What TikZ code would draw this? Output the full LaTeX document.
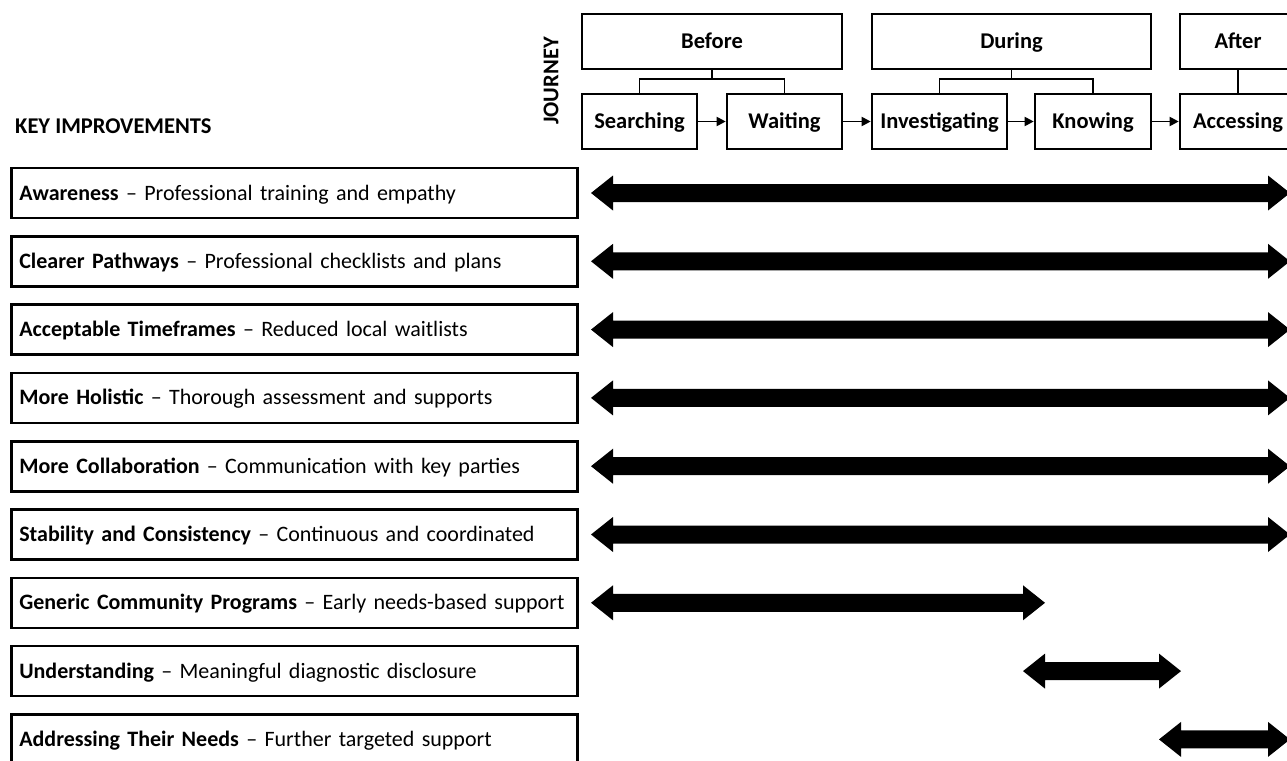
\documentclass[tikz,border=0pt]{standalone}
\usepackage{fontspec}
\setmainfont{Carlito}
\usetikzlibrary{arrows.meta}
\newcommand\dblfat[3]{%
  \fill ({#1},{#3}) -- ({#1+22},{#3-17.5}) -- ({#1+22},{#3-9}) -- ({#2-22},{#3-9}) -- ({#2-22},{#3-17.5}) -- ({#2},{#3}) -- ({#2-22},{#3+17.5}) -- ({#2-22},{#3+9}) -- ({#1+22},{#3+9}) -- ({#1+22},{#3+17.5}) -- cycle;}
\begin{document}
\begin{tikzpicture}[x=1pt,y=-1pt,
  stage/.style={draw, line width=2.6pt, minimum height=55pt, inner sep=0pt, text height=17pt, text depth=3pt, font=\fontsize{22.5}{26}\selectfont\bfseries},
  imp/.style={draw, line width=2.6pt, minimum width=566pt, minimum height=50pt, text width=550pt, inner xsep=8pt, inner ysep=0pt, text height=17pt, text depth=3pt, align=left, anchor=west, font=\fontsize{22}{26}\selectfont},
  link/.style={line width=1.8pt},
  flow/.style={line width=1.8pt, -{Triangle[length=9pt,width=9pt]}},
  head/.style={font=\fontsize{22.5}{26}\selectfont\bfseries, inner sep=0pt}
]
\useasboundingbox (0,0) rectangle (1287,760);
\fill[white] (0,0) rectangle (1287,760);

% journey stages
\node[stage, minimum width=260pt] (before) at (712,41.5) {Before};
\node[stage, minimum width=279pt] (during) at (1011.5,41.5) {During};
\node[stage, minimum width=116pt] (after) at (1238,41.5) {After};
\node[stage, minimum width=115pt] (search) at (639.5,121.5) {Searching};
\node[stage, minimum width=115pt] (wait) at (784.5,121.5) {Waiting};
\node[stage, minimum width=135pt] (invest) at (939.5,121.5) {Investigating};
\node[stage, minimum width=116pt] (know) at (1093,121.5) {Knowing};
\node[stage, minimum width=116pt] (access) at (1238,121.5) {Accessing};

\draw[link] (before.south) -- ++(0,9) coordinate (bj);
\draw[link] (search.north) |- (bj) -| (wait.north);
\draw[link] (during.south) -- ++(0,9) coordinate (dj);
\draw[link] (invest.north) |- (dj) -| (know.north);
\draw[link] (after.south) -- (access.north);

\draw[flow] (search) -- (wait);
\draw[flow] (wait) -- (invest);
\draw[flow] (invest) -- (know);
\draw[flow] (know) -- (access);

\node[head, rotate=90] (journey) at (551,81) {JOURNEY};
\node[head, anchor=west] (keyimp) at (15,126) {KEY IMPROVEMENTS};

% improvements
\node[imp] (i1) at (10,193) {\textbf{Awareness} \textendash{} Professional training and empathy};
\node[imp] (i2) at (10,261.3) {\textbf{Clearer Pathways} \textendash{} Professional checklists and plans};
\node[imp] (i3) at (10,329.6) {\textbf{Acceptable Timeframes} \textendash{} Reduced local waitlists};
\node[imp] (i4) at (10,397.9) {\textbf{More Holistic} \textendash{} Thorough assessment and supports};
\node[imp] (i5) at (10,466.2) {\textbf{More Collaboration} \textendash{} Communication with key parties};
\node[imp] (i6) at (10,534.5) {\textbf{Stability and Consistency} \textendash{} Continuous and coordinated};
\node[imp] (i7) at (10,602.8) {\textbf{Generic Community Programs} \textendash{} Early needs-based support};
\node[imp] (i8) at (10,671.1) {\textbf{Understanding} \textendash{} Meaningful diagnostic disclosure};
\node[imp] (i9) at (10,739.4) {\textbf{Addressing Their Needs} \textendash{} Further targeted support};

% span arrows
\dblfat{591}{1290}{193}
\dblfat{591}{1290}{261.3}
\dblfat{591}{1290}{329.6}
\dblfat{591}{1290}{397.9}
\dblfat{591}{1290}{466.2}
\dblfat{591}{1290}{534.5}
\dblfat{591}{1045}{602.8}
\dblfat{1023}{1181}{671.1}
\dblfat{1159}{1290}{739.4}
\end{tikzpicture}
\end{document}
